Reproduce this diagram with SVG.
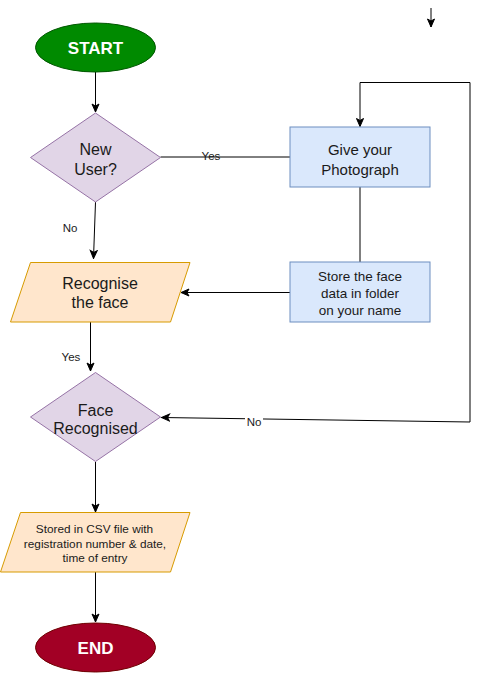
<svg xmlns="http://www.w3.org/2000/svg" width="479" height="673" viewBox="0 0 479 673">
<style>
.t{font-family:"Liberation Sans",Arial,sans-serif;fill:#1a1a1a;text-anchor:middle}
.w{font-family:"Liberation Sans",Arial,sans-serif;fill:#ffffff;font-weight:bold;text-anchor:middle;font-size:17px}
.lbl{font-family:"Liberation Sans",Arial,sans-serif;fill:#1a1a1a;text-anchor:middle;font-size:11.5px}
.c{fill:none;stroke:#000;stroke-width:1}
.dia{fill:#e1d5e7;stroke:#9673a6;stroke-width:1}
.box{fill:#dae8fc;stroke:#6c8ebf;stroke-width:1}
.par{fill:#ffe6cc;stroke:#d79b00;stroke-width:1}
</style>
<defs>
<marker id="ah" markerUnits="userSpaceOnUse" markerWidth="10" markerHeight="10" viewBox="0 0 10 10" refX="9" refY="5" orient="auto">
<path d="M1,1.5 L9,5 L1,8.5 L3,5 z" fill="#000" stroke="#000" stroke-width="1"/>
</marker>
</defs>
<rect width="479" height="673" fill="#ffffff"/>
<g id="connectors">
<path class="c" d="M431,8 L431,27" marker-end="url(#ah)"/>
<path class="c" d="M95.5,72 L95.5,112" marker-end="url(#ah)"/>
<path class="c" d="M160.5,157 L290,157"/>
<path class="c" d="M95.5,202 L93.5,258.5" marker-end="url(#ah)"/>
<path class="c" d="M360,187 L360,262"/>
<path class="c" d="M290,292.5 L181,292.5" marker-end="url(#ah)"/>
<path class="c" d="M90.5,322 L90.5,371" marker-end="url(#ah)"/>
<path class="c" d="M470,422 L470,82.5 L360,82.5 L360,126.5" marker-end="url(#ah)"/>
<path class="c" d="M470,422 L161.5,417.5" marker-end="url(#ah)"/>
<path class="c" d="M95.5,462 L95.5,512" marker-end="url(#ah)"/>
<path class="c" d="M95.5,572 L95.5,622" marker-end="url(#ah)"/>
<text class="lbl" x="211" y="160">Yes</text>
<text class="lbl" x="70" y="232">No</text>
<text class="lbl" x="71" y="361">Yes</text>
<rect x="245" y="414" width="18" height="13" fill="#ffffff"/>
<text class="lbl" x="254" y="426">No</text>
</g>
<g id="start">
<ellipse cx="95.5" cy="47.5" rx="60" ry="24.5" fill="#008a00" stroke="#005700"/>
<text class="w" x="95.5" y="53.5">START</text>
</g>
<g id="new-user">
<polygon class="dia" points="95.5,113 160.5,157.5 95.5,202 30.5,157.5"/>
<text class="t" font-size="16" x="95.5" y="154.5">New</text>
<text class="t" font-size="16" x="95.5" y="174.5">User?</text>
</g>
<g id="give-photo">
<rect class="box" x="290" y="127" width="140" height="60"/>
<text class="t" font-size="15" x="360" y="155">Give your</text>
<text class="t" font-size="15" x="360" y="174.5">Photograph</text>
</g>
<g id="store-face">
<rect class="box" x="290" y="262" width="140" height="60"/>
<text class="t" font-size="13.5" x="360" y="280.5">Store the face</text>
<text class="t" font-size="13.5" x="360" y="297.5">data in folder</text>
<text class="t" font-size="13.5" x="360" y="314.5">on your name</text>
</g>
<g id="recognise">
<polygon class="par" points="30.5,262.5 190,262.5 170.5,322 10.5,322"/>
<text class="t" font-size="16" x="100" y="288.5">Recognise</text>
<text class="t" font-size="16" x="100" y="308">the face</text>
</g>
<g id="face-recognised">
<polygon class="dia" points="95.5,372.5 160.5,417 95.5,461.5 30.5,417"/>
<text class="t" font-size="16" x="95.5" y="415.5">Face</text>
<text class="t" font-size="16" x="95.5" y="433.5">Recognised</text>
</g>
<g id="stored-csv">
<polygon class="par" points="20.5,512.5 190,512.5 170.5,572 0.5,572"/>
<text class="t" font-size="11.8" x="94.5" y="533">Stored in CSV file with</text>
<text class="t" font-size="11.8" x="95" y="548">registration number &amp; date,</text>
<text class="t" font-size="11.8" x="95" y="562">time of entry</text>
</g>
<g id="end">
<ellipse cx="95.5" cy="647.5" rx="60" ry="24.5" fill="#a20025" stroke="#6f0000"/>
<text class="w" x="95.5" y="653.5">END</text>
</g>
</svg>
